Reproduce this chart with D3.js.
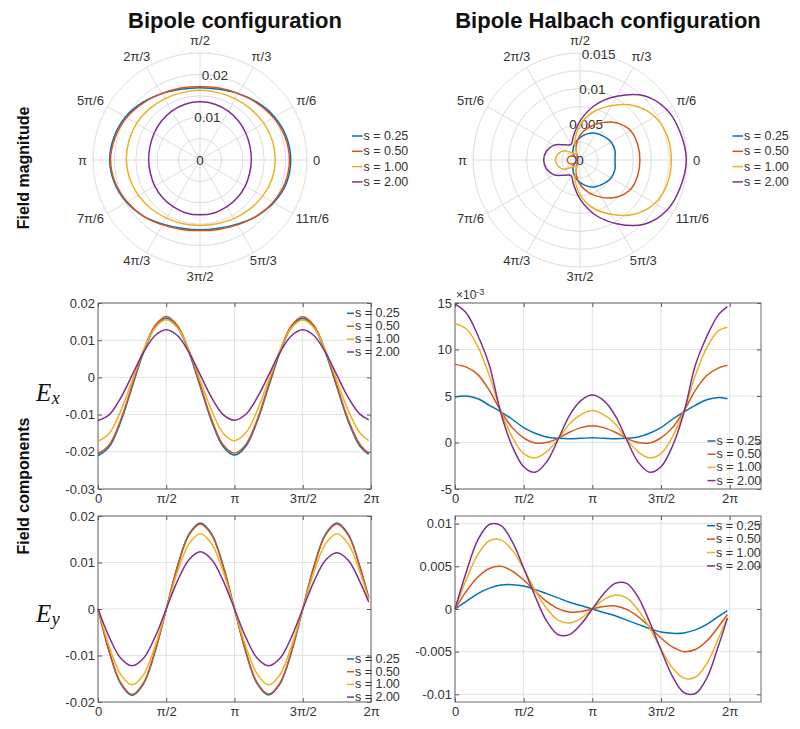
<!DOCTYPE html>
<html>
<head>
<meta charset="utf-8">
<script src="https://cdn.jsdelivr.net/npm/d3@7/dist/d3.min.js"></script>
<style>
  body { margin: 0; background: #fff; }
  svg { display: block; font-family: "Liberation Sans", Arial, sans-serif; }
</style>
</head>
<body>
<div id="chart"></div>
<script>
// sample angles in degrees (line plots stop just short of 2pi)
const thetaDeg = [0, 15, 30, 45, 60, 75, 90, 105, 120, 135, 150, 165, 180,
                  195, 210, 225, 240, 255, 270, 285, 300, 315, 330, 345, 357]
const polarDeg = thetaDeg.slice(0, 24)

const seriesNames = ["s = 0.25", "s = 0.50", "s = 1.00", "s = 2.00"]
const colours = ["#0072BD", "#D95319", "#EDB120", "#7E2F8E"]

const xTicks = [0, Math.PI / 2, Math.PI, 3 * Math.PI / 2, 2 * Math.PI]
const xTickLabels = ["0", "π/2", "π", "3π/2", "2π"]
const angleLabels = ["0", "π/6", "π/3", "π/2", "2π/3", "5π/6", "π", "7π/6", "4π/3", "3π/2", "5π/3", "11π/6"]

// all field values below are in units of 1e-3
// field magnitude, bipole (one row per s, angles = polarDeg)
const bipoleMag = [
  [21.2, 20.9, 20.1, 19.0, 17.9, 17.1, 16.9, 17.1, 17.9, 19.0, 20.1, 20.8, 21.1, 20.7, 19.8, 18.6, 17.3, 16.5, 16.3, 16.5, 17.3, 18.6, 19.9, 20.9],
  [20.9, 20.6, 19.8, 18.8, 17.9, 17.4, 17.2, 17.4, 17.9, 18.8, 19.8, 20.5, 20.9, 20.5, 19.6, 18.6, 17.5, 16.8, 16.5, 16.8, 17.5, 18.6, 19.7, 20.6],
  [17.6, 17.5, 17.2, 16.8, 16.5, 16.3, 16.3, 16.3, 16.5, 16.8, 17.1, 17.2, 17.2, 17.0, 16.6, 16.1, 15.7, 15.4, 15.3, 15.4, 15.8, 16.3, 16.9, 17.4],
  [12.0, 12.1, 12.4, 12.8, 13.2, 13.5, 13.6, 13.5, 13.2, 12.8, 12.4, 12.1, 12.0, 12.0, 12.2, 12.4, 12.6, 12.8, 12.8, 12.8, 12.6, 12.4, 12.2, 12.0]
]

// field magnitude, bipole halbach
const halbachMag = [
  [4.9, 5.08, 5.03, 4.69, 4.33, 3.79, 3.14, 2.51, 1.9, 1.38, 0.89, 0.6, 0.5, 0.6, 0.89, 1.38, 1.9, 2.51, 3.14, 3.79, 4.33, 4.69, 5.03, 5.08],
  [8.4, 8.37, 8.21, 7.34, 6.05, 4.73, 3.44, 2.1, 0.9, 0.45, 1.15, 1.63, 1.8, 1.63, 1.15, 0.45, 0.9, 2.1, 3.44, 4.73, 6.05, 7.34, 8.21, 8.37],
  [12.8, 12.69, 12.13, 10.76, 8.78, 6.93, 4.85, 2.75, 1.0, 1.35, 2.59, 3.2, 3.45, 3.2, 2.59, 1.35, 1.0, 2.75, 4.85, 6.93, 8.78, 10.76, 12.13, 12.69],
  [14.9, 14.58, 14.07, 12.73, 10.31, 7.91, 5.46, 3.53, 2.52, 3.01, 4.17, 4.85, 5.1, 4.85, 4.17, 3.01, 2.52, 3.53, 5.46, 7.91, 10.31, 12.73, 14.07, 14.58]
]

// Ex, bipole (angles = thetaDeg)
const bipoleEx = [
  [-21.1, -18.6, -11.9, -2.6, 6.7, 13.4, 15.9, 13.4, 6.7, -2.6, -11.9, -18.6, -20.9, -18.5, -11.8, -2.5, 6.7, 13.4, 15.8, 13.4, 6.6, -2.6, -11.8, -18.4, -20.7],
  [-20.6, -18.1, -11.4, -2.1, 7.2, 13.9, 16.4, 13.9, 7.2, -2.1, -11.4, -18.1, -20.4, -18.0, -11.3, -2.0, 7.2, 13.9, 16.3, 13.9, 7.1, -2.1, -11.3, -17.9, -20.4],
  [-17.2, -15.0, -9.0, -0.9, 7.3, 13.3, 15.5, 13.3, 7.3, -0.9, -9.0, -15.0, -17.0, -14.9, -8.9, -0.8, 7.3, 13.3, 15.4, 13.3, 7.2, -0.9, -8.9, -14.8, -17.0],
  [-11.6, -10.0, -5.5, 0.6, 6.7, 11.2, 12.8, 11.2, 6.7, 0.6, -5.5, -10.0, -11.5, -9.9, -5.4, 0.6, 6.7, 11.2, 12.8, 11.2, 6.7, 0.6, -5.4, -9.8, -11.4]
]

// Ey, bipole
const bipoleEy = [
  [0, -9.3, -16.1, -18.6, -16.1, -9.3, 0, 9.3, 16.1, 18.5, 16.1, 9.3, 0, -9.3, -16.1, -18.5, -16.1, -9.3, 0, 9.3, 16.1, 18.5, 16.1, 9.3, 2.4],
  [0, -9.2, -15.9, -18.4, -15.9, -9.2, 0, 9.2, 15.9, 18.3, 15.9, 9.2, 0, -9.2, -15.9, -18.3, -15.9, -9.2, 0, 9.2, 15.9, 18.3, 15.9, 9.2, 2.3],
  [0, -8.15, -14.1, -16.3, -14.1, -8.15, 0, 8.1, 14.0, 16.2, 14.0, 8.1, 0, -8.1, -14.0, -16.3, -14.1, -8.1, 0, 8.1, 14.0, 16.2, 14.0, 8.1, 2.0],
  [0, -6.1, -10.6, -12.2, -10.6, -6.1, 0, 6.1, 10.6, 12.3, 10.6, 6.1, 0, -6.1, -10.6, -12.2, -10.6, -6.1, 0, 6.0, 10.5, 12.1, 10.5, 6.0, 1.5]
]

// Ex, bipole halbach
const halbachEx = [
  [4.9, 5.0, 4.7, 4.0, 3.3, 2.5, 1.6, 1.0, 0.6, 0.45, 0.4, 0.45, 0.5, 0.45, 0.4, 0.45, 0.6, 1.0, 1.6, 2.5, 3.3, 4.0, 4.6, 4.85, 4.7],
  [8.4, 8.1, 7.3, 5.6, 3.4, 1.6, 0.5, -0.05, 0.0, 0.45, 1.1, 1.6, 1.8, 1.6, 1.1, 0.45, 0.0, -0.05, 0.5, 1.6, 3.4, 5.6, 7.2, 8.0, 8.3],
  [12.8, 12.2, 10.3, 7.2, 3.4, 0.6, -1.2, -1.65, -1.0, 0.35, 2.0, 3.0, 3.45, 3.0, 2.0, 0.35, -1.0, -1.65, -1.2, 0.6, 3.4, 7.2, 10.2, 12.0, 12.4],
  [14.9, 13.9, 11.5, 8.3, 3.2, -0.4, -2.6, -3.2, -2.1, 0.3, 2.9, 4.5, 5.1, 4.5, 2.9, 0.3, -2.1, -3.2, -2.6, -0.4, 3.2, 8.3, 11.4, 13.7, 14.6]
]

// Ey, bipole halbach
const halbachEy = [
  [0, 0.9, 1.8, 2.45, 2.8, 2.85, 2.7, 2.3, 1.8, 1.3, 0.8, 0.4, 0, -0.4, -0.8, -1.3, -1.8, -2.3, -2.7, -2.85, -2.8, -2.45, -1.8, -0.9, -0.2],
  [0, 2.1, 3.75, 4.75, 5.0, 4.45, 3.4, 2.1, 0.9, 0.05, -0.35, -0.3, 0, 0.3, 0.35, -0.05, -0.9, -2.1, -3.4, -4.45, -5.0, -4.75, -3.75, -2.1, -0.65],
  [0, 3.5, 6.4, 8.0, 8.1, 6.9, 4.7, 2.2, 0.1, -1.3, -1.65, -1.1, 0, 1.1, 1.65, 1.3, -0.1, -2.2, -4.7, -6.9, -8.1, -8.0, -6.4, -3.5, -1.0],
  [0, 4.4, 8.1, 9.9, 9.8, 7.9, 4.8, 1.5, -1.4, -3.0, -3.0, -1.8, 0, 1.8, 3.0, 3.0, 1.4, -1.5, -4.8, -7.9, -9.8, -9.9, -8.1, -4.4, -1.1]
]

const rad = d => d * Math.PI / 180
const thetaRad = thetaDeg.map(rad)

const svg = d3.select("#chart")
    .append("svg")
    .attr("width", 800)
    .attr("height", 729)

const tickColour = "#333"
const gridColour = "#e2e2e2"

// column titles
svg.append("text").attr("x", 235).attr("y", 28).attr("text-anchor", "middle")
    .attr("font-size", 22).attr("font-weight", 700).attr("fill", "#111").text("Bipole configuration")
svg.append("text").attr("x", 608).attr("y", 28).attr("text-anchor", "middle")
    .attr("font-size", 22).attr("font-weight", 700).attr("fill", "#111").text("Bipole Halbach configuration")

// row labels
svg.append("text").attr("transform", "translate(29,168) rotate(-90)").attr("text-anchor", "middle")
    .attr("font-size", 16).attr("font-weight", 700).attr("fill", "#111").text("Field magnitude")
svg.append("text").attr("transform", "translate(29,486) rotate(-90)").attr("text-anchor", "middle")
    .attr("font-size", 16).attr("font-weight", 700).attr("fill", "#111").text("Field components")

// latex-ish component labels
const compLabel = (y, sub) => {
    const t = svg.append("text").attr("x", 36).attr("y", y)
        .attr("font-family", "'Liberation Serif', 'DejaVu Serif', serif")
        .attr("font-style", "italic").attr("font-size", 25).attr("fill", "#111")
    t.append("tspan").text("E")
    t.append("tspan").attr("dy", 3).attr("dx", 0.5).attr("font-size", 18).text(sub)
}
compLabel(401, "x")
compLabel(622, "y")

const legend = (g, x, y, dy, lineLen, size) => {
    seriesNames.forEach((name, i) => {
        g.append("line").attr("x1", x).attr("x2", x + lineLen)
            .attr("y1", y + i * dy).attr("y2", y + i * dy)
            .attr("stroke", colours[i]).attr("stroke-width", 1.5)
        g.append("text").attr("x", x + lineLen + 1).attr("y", y + i * dy)
            .attr("dominant-baseline", "central").attr("font-size", size)
            .attr("fill", tickColour).text(name)
    })
}

// polar plot of the field magnitude
const drawPolar = (cx, cy, rMax, ringStep, rTicks, mags, legendX) => {
    const R = 107
    const r = d3.scaleLinear().domain([0, rMax]).range([0, R])
    const g = svg.append("g")

    g.selectAll(".ring").data(d3.range(ringStep, rMax + 1e-9, ringStep)).join("circle")
        .attr("cx", cx).attr("cy", cy).attr("r", d => r(d))
        .attr("fill", "none").attr("stroke", "#dcdcdc").attr("stroke-width", 1)

    g.selectAll(".spoke").data(d3.range(0, 360, 30)).join("line")
        .attr("x1", cx).attr("y1", cy)
        .attr("x2", d => cx + R * Math.cos(rad(d)))
        .attr("y2", d => cy - R * Math.sin(rad(d)))
        .attr("stroke", "#dcdcdc").attr("stroke-width", 1)

    // angle labels, pushed out by half their width
    g.selectAll(".alab").data(angleLabels).join("text")
        .attr("font-size", 13).attr("fill", tickColour)
        .attr("text-anchor", "middle").attr("dominant-baseline", "central")
        .text(d => d)
        .each(function (d, i) {
            const a = rad(i * 30)
            const w = this.getComputedTextLength()
            const s = Math.sin(a)
            const off = s > 0 ? 7 : 3.5
            d3.select(this)
                .attr("x", cx + (113 + w / 2) * Math.cos(a))
                .attr("y", cy - (113 + off) * s)
        })

    // radial tick labels along 80 degrees
    g.selectAll(".rlab").data(rTicks).join("text")
        .attr("x", d => cx + r(d) * Math.cos(rad(80)))
        .attr("y", d => cy - r(d) * Math.sin(rad(80)))
        .attr("text-anchor", "middle").attr("dominant-baseline", "central")
        .attr("font-size", 13.5).attr("fill", tickColour)
        .text(d => String(d / 1000))

    const line = d3.lineRadial()
        .angle(d => Math.PI / 2 - rad(d[0]))
        .radius(d => r(d[1]))
        .curve(d3.curveCatmullRomClosed)

    g.selectAll(".mag").data(mags).join("path")
        .attr("transform", `translate(${cx},${cy})`)
        .attr("d", m => line(polarDeg.map((a, i) => [a, m[i]])))
        .attr("fill", "none")
        .attr("stroke", (d, i) => colours[i])
        .attr("stroke-width", 1.5)

    legend(g, legendX, 136, 15.3, 10.5, 12.5)
}

drawPolar(200, 160, 25, 5, [0, 10, 20], bipoleMag, 352)
drawPolar(580, 160, 15, 2.5, [0, 5, 10, 15], halbachMag, 732.5)

// line plot of a field component
const drawPanel = (p) => {
    const x = d3.scaleLinear().domain([0, p.xMax]).range([p.x0, p.x1])
    const y = d3.scaleLinear().domain(p.yDomain).range([p.y1, p.y0])
    const g = svg.append("g")

    // grid
    g.selectAll(".vg").data(xTicks).join("line")
        .attr("x1", d => x(d)).attr("x2", d => x(d)).attr("y1", p.y0).attr("y2", p.y1)
        .attr("stroke", gridColour)
    g.selectAll(".hg").data(p.yTicks).join("line")
        .attr("x1", p.x0).attr("x2", p.x1).attr("y1", d => y(d)).attr("y2", d => y(d))
        .attr("stroke", gridColour)

    const styleAxis = (a) => {
        a.select(".domain").remove()
        a.selectAll(".tick line").attr("stroke", "#555")
        a.selectAll(".tick text").attr("fill", tickColour).attr("font-size", 13)
            .attr("font-family", "'Liberation Sans', Arial, sans-serif")
    }

    g.append("g").attr("transform", `translate(0,${p.y1})`)
        .call(d3.axisBottom(x).tickValues(xTicks).tickFormat((d, i) => xTickLabels[i])
            .tickSizeInner(-4).tickSizeOuter(0).tickPadding(5))
        .call(styleAxis)
    g.append("g").attr("transform", `translate(0,${p.y0})`)
        .call(d3.axisTop(x).tickValues(xTicks).tickFormat("").tickSizeInner(-4).tickSizeOuter(0))
        .call(styleAxis)
    g.append("g").attr("transform", `translate(${p.x0},0)`)
        .call(d3.axisLeft(y).tickValues(p.yTicks).tickFormat(p.fmt)
            .tickSizeInner(-4).tickSizeOuter(0).tickPadding(3))
        .call(styleAxis)
    g.append("g").attr("transform", `translate(${p.x1},0)`)
        .call(d3.axisRight(y).tickValues(p.yTicks).tickFormat("").tickSizeInner(-4).tickSizeOuter(0))
        .call(styleAxis)

    g.append("rect").attr("x", p.x0).attr("y", p.y0)
        .attr("width", p.x1 - p.x0).attr("height", p.y1 - p.y0)
        .attr("fill", "none").attr("stroke", "#6a6a6a").attr("stroke-width", 1)

    const line = d3.line()
        .x((d, i) => x(thetaRad[i]))
        .y(d => y(d))
        .curve(d3.curveCatmullRom.alpha(0.5))

    g.selectAll(".series").data(p.values).join("path")
        .attr("d", line)
        .attr("fill", "none")
        .attr("stroke", (d, i) => colours[i])
        .attr("stroke-width", 1.5)

    legend(g, p.legend[0], p.legend[1], p.legend[2], p.legend[3], 12.5)
}

const milli = d => String(d / 1000)

drawPanel({ x0: 98, x1: 371, y0: 303, y1: 489, xMax: 2 * Math.PI,
    yDomain: [-30, 20], yTicks: [-30, -20, -10, 0, 10, 20], fmt: milli,
    values: bipoleEx, legend: [347, 313.3, 12.9, 7] })
drawPanel({ x0: 455, x1: 761, y0: 303, y1: 489, xMax: 7,
    yDomain: [-5, 15], yTicks: [-5, 0, 5, 10, 15], fmt: d => String(d),
    values: halbachEx, legend: [707.5, 441, 13.2, 8] })
drawPanel({ x0: 98, x1: 371, y0: 516, y1: 702, xMax: 2 * Math.PI,
    yDomain: [-20, 20], yTicks: [-20, -10, 0, 10, 20], fmt: milli,
    values: bipoleEy, legend: [347, 659, 12.7, 7] })
drawPanel({ x0: 455, x1: 761, y0: 516, y1: 702, xMax: 7,
    yDomain: [-10.9, 10.9], yTicks: [-10, -5, 0, 5, 10], fmt: milli,
    values: halbachEy, legend: [707, 525.7, 13.4, 8] })

// exponent label of the halbach Ex axis
const ex = svg.append("text").attr("x", 456).attr("y", 299).attr("font-size", 12).attr("fill", tickColour)
ex.append("tspan").text("×10")
ex.append("tspan").attr("dy", -4).attr("font-size", 9).text("-3")
</script>
</body>
</html>
